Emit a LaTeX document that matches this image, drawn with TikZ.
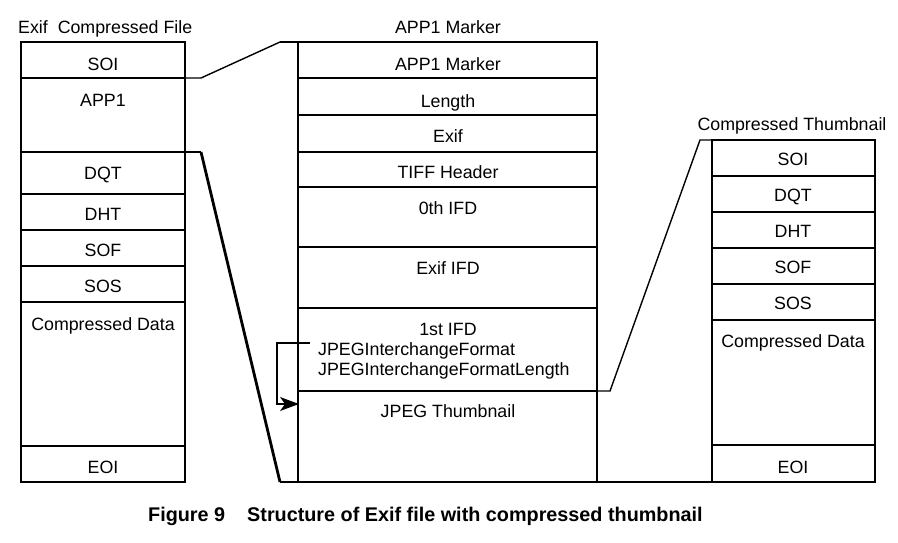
\documentclass[tikz,border=0pt]{standalone}
\usepackage{fontspec}
\setmainfont{Liberation Sans}
\usetikzlibrary{arrows.meta}
\begin{document}
\begin{tikzpicture}[x=1pt,y=-1pt,
  cell/.style={draw, line width=1.4pt, inner sep=0pt, outer sep=0pt, anchor=north west, minimum width=#1},
  txt/.style={font=\fontsize{17.8}{21}\selectfont, inner sep=0pt, anchor=base},
  txtl/.style={txt, anchor=base west},
  capt/.style={font=\bfseries\fontsize{19.8}{23}\selectfont, inner sep=0pt, anchor=base west},
  conn/.style={line width=1.4pt, line join=miter},
  heavyconn/.style={line width=2.8pt, line join=miter}]
\useasboundingbox (0,0) rectangle (898,542);
% left column
\node[cell=164pt, minimum height=36pt] (lSOI) at (21,42) {};
\node[cell=164pt, minimum height=74pt] (lAPP) at (lSOI.south west) {};
\node[cell=164pt, minimum height=42pt] (lDQT) at (lAPP.south west) {};
\node[cell=164pt, minimum height=36pt] (lDHT) at (lDQT.south west) {};
\node[cell=164pt, minimum height=36pt] (lSOF) at (lDHT.south west) {};
\node[cell=164pt, minimum height=36pt] (lSOS) at (lSOF.south west) {};
\node[cell=164pt, minimum height=144pt] (lCD) at (lSOS.south west) {};
\node[cell=164pt, minimum height=36pt] (lEOI) at (lCD.south west) {};
% middle column
\node[cell=299pt, minimum height=36pt] (mAM) at (298,42) {};
\node[cell=299pt, minimum height=37pt] (mLen) at (mAM.south west) {};
\node[cell=299pt, minimum height=37pt] (mExif) at (mLen.south west) {};
\node[cell=299pt, minimum height=35pt] (mTIFF) at (mExif.south west) {};
\node[cell=299pt, minimum height=60pt] (m0th) at (mTIFF.south west) {};
\node[cell=299pt, minimum height=61pt] (mEIFD) at (m0th.south west) {};
\node[cell=299pt, minimum height=83pt] (m1st) at (mEIFD.south west) {};
\node[cell=299pt, minimum height=91pt] (mJPEG) at (m1st.south west) {};
% right column
\node[cell=163pt, minimum height=36pt] (rSOI) at (712,140) {};
\node[cell=163pt, minimum height=36pt] (rDQT) at (rSOI.south west) {};
\node[cell=163pt, minimum height=36pt] (rDHT) at (rDQT.south west) {};
\node[cell=163pt, minimum height=36pt] (rSOF) at (rDHT.south west) {};
\node[cell=163pt, minimum height=36pt] (rSOS) at (rSOF.south west) {};
\node[cell=163pt, minimum height=125pt] (rCD) at (rSOS.south west) {};
\node[cell=163pt, minimum height=37pt] (rEOI) at (rCD.south west) {};
% titles
\node[txtl] (tLeft) at (18,33) {Exif\ \ Compressed File};
\node[txt] (tMid) at (448,33) {APP1 Marker};
\node[txt] (tRight) at (792,130) {Compressed Thumbnail};
% left texts
\node[txt] (xlSOI) at (103,70) {SOI};
\node[txt] (xlAPP) at (103,106) {APP1};
\node[txt] (xlDQT) at (103,179) {DQT};
\node[txt] (xlDHT) at (103,220) {DHT};
\node[txt] (xlSOF) at (103,256) {SOF};
\node[txt] (xlSOS) at (103,292) {SOS};
\node[txt] (xlCD) at (103,330) {Compressed Data};
\node[txt] (xlEOI) at (103,473) {EOI};
% middle texts
\node[txt] (xmAM) at (448,70) {APP1 Marker};
\node[txt] (xmLen) at (448,107) {Length};
\node[txt] (xmExif) at (448,142) {Exif};
\node[txt] (xmTIFF) at (448,178) {TIFF Header};
\node[txt] (xm0th) at (448,214) {0th IFD};
\node[txt] (xmEIFD) at (448,274) {Exif IFD};
\node[txt] (xm1st) at (448,335) {1st IFD};
\node[txtl] (xmJIF) at (318,355) {JPEGInterchangeFormat};
\node[txtl] (xmJIFL) at (318,375) {JPEGInterchangeFormatLength};
\node[txt] (xmJPEG) at (448,417) {JPEG Thumbnail};
% right texts
\node[txt] (xrSOI) at (793,165) {SOI};
\node[txt] (xrDQT) at (793,201) {DQT};
\node[txt] (xrDHT) at (793,237) {DHT};
\node[txt] (xrSOF) at (793,273) {SOF};
\node[txt] (xrSOS) at (793,309) {SOS};
\node[txt] (xrCD) at (793,347) {Compressed Data};
\node[txt] (xrEOI) at (793,473) {EOI};
% connectors
\coordinate (a1) at (201,78);
\coordinate (a2) at (280,42);
\draw[conn] (lAPP.north east) -- (a1) -- (a2);
\draw[heavyconn] (a2) -- (mAM.north west);
\coordinate (b1) at (201,152);
\coordinate (b2) at (280,482);
\draw[conn] (lDQT.north east) -- (b1);
\draw[heavyconn] (b1) -- (b2);
\draw[conn] (b2) -- (mJPEG.south west);
\coordinate (c1) at (610,391);
\coordinate (c2) at (700,140);
\draw[conn] (mJPEG.north east) -- (c1) -- (c2) -- (rSOI.north west);
\draw[heavyconn] (mJPEG.south east) -- (rEOI.south west);
\coordinate (d0) at (310,343);
\coordinate (d1) at (277,343);
\coordinate (d2) at (277,404);
\draw[conn] (d0) -- (d1) -- (d2) -- (d2 -| mJPEG.west);
\fill ([xshift=1pt]d2 -| mJPEG.west) -- ++(-19,-7) -- ++(5,7) -- ++(-5,7) -- cycle;
% caption
\node[capt] (cap) at (148,521) {Figure 9\hspace{22pt}Structure of Exif file with compressed thumbnail};
\end{tikzpicture}
\end{document}
